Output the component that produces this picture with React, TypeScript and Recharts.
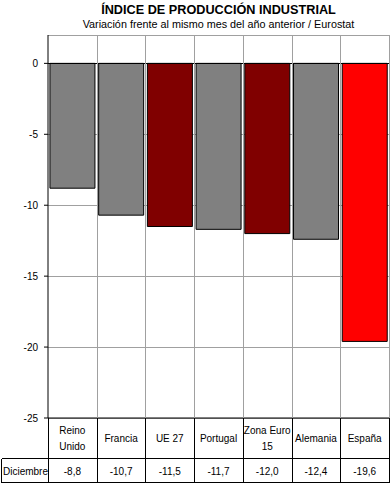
import { BarChart, Bar, XAxis, YAxis, CartesianGrid, ReferenceLine, Cell } from "recharts";

// datos: Eurostat, diciembre
const paises = ["Reino\nUnido", "Francia", "UE 27", "Portugal", "Zona Euro\n15", "Alemania", "España"];
const diciembre = [-8.8, -10.7, -11.5, -11.7, -12.0, -12.4, -19.6];
const colores = ["#808080", "#808080", "#800000", "#808080", "#800000", "#808080", "#ff0000"];
const yTicks = [0, -5, -10, -15, -20, -25];

const data = paises.map((pais, i) => ({ pais, valor: diciembre[i] }));

const W = 391;
const H = 485;
const PLOT_LEFT = 48;
const PLOT_RIGHT = 389;
const PLOT_TOP = 35;
const PLOT_BOTTOM = 418;
const ROW_SPLIT = 458.5;
const TABLE_BOTTOM = 482.5;
const CELL_W = (PLOT_RIGHT - PLOT_LEFT) / paises.length;
const FONT = "'Liberation Sans', Arial, sans-serif";

const fmt = (v: number) => v.toFixed(1).replace(".", ",");

function CeldaTick(props: any) {
  const { x, payload } = props;
  const i = paises.indexOf(payload.value);
  const half = CELL_W / 2;
  const left = Math.round(x - half) + 0.5;
  const right = Math.round(x + half) + 0.5;
  const lines = String(payload.value).split("\n");
  const midLabel = (PLOT_BOTTOM + ROW_SPLIT) / 2;
  return (
    <g fontFamily={FONT} fontSize={10} fill="#000" shapeRendering="crispEdges">
      <line x1={right} x2={right} y1={PLOT_TOP} y2={PLOT_BOTTOM} stroke="#a0a0a0" />
      <line x1={right} x2={right} y1={PLOT_BOTTOM} y2={TABLE_BOTTOM} stroke="#000" />
      {i === 0 && (
        <>
          <line x1={left} x2={left} y1={PLOT_BOTTOM} y2={TABLE_BOTTOM} stroke="#000" />
          <line x1={1.5} x2={PLOT_RIGHT + 0.5} y1={ROW_SPLIT} y2={ROW_SPLIT} stroke="#000" />
          <line x1={1.5} x2={PLOT_RIGHT + 0.5} y1={TABLE_BOTTOM} y2={TABLE_BOTTOM} stroke="#000" />
          <line x1={1.5} x2={1.5} y1={ROW_SPLIT} y2={TABLE_BOTTOM} stroke="#000" />
          <text x={3} y={(ROW_SPLIT + TABLE_BOTTOM) / 2 + 4} textAnchor="start" stroke="none">
            Diciembre
          </text>
        </>
      )}
      {lines.map((l, k) => (
        <text
          key={k}
          x={x}
          y={midLabel + 4 + (k - (lines.length - 1) / 2) * 16}
          textAnchor="middle"
          stroke="none"
        >
          {l}
        </text>
      ))}
      <text x={x} y={(ROW_SPLIT + TABLE_BOTTOM) / 2 + 4} textAnchor="middle" stroke="none">
        {fmt(diciembre[i])}
      </text>
    </g>
  );
}

export default function App() {
  return (
    <div style={{ position: "relative", width: W, height: H, background: "#fff" }}>
      <style>{"body{margin:0}"}</style>
      <BarChart
        width={W}
        height={H}
        data={data}
        margin={{ top: PLOT_TOP, right: W - PLOT_RIGHT, bottom: 0, left: 0 }}
        barCategoryGap="4%"
      >
        <CartesianGrid vertical={false} stroke="#a0a0a0" shapeRendering="crispEdges" />
        <ReferenceLine y={2} stroke="#a0a0a0" shapeRendering="crispEdges" />
        <YAxis
          type="number"
          domain={[-25, 2]}
          ticks={yTicks}
          width={PLOT_LEFT}
          tickSize={4}
          tickMargin={6}
          axisLine={{ stroke: "#000" }}
          tickLine={{ stroke: "#000" }}
          tick={{ fill: "#000", fontSize: 10, fontFamily: FONT }}
          interval={0}
        />
        <XAxis
          dataKey="pais"
          height={H - PLOT_BOTTOM}
          axisLine={{ stroke: "#000" }}
          tickLine={false}
          interval={0}
          tick={<CeldaTick />}
        />
        <Bar dataKey="valor" stroke="#000" strokeWidth={1} isAnimationActive={false}>
          {data.map((d, i) => (
            <Cell key={d.pais} fill={colores[i]} />
          ))}
        </Bar>
        <ReferenceLine y={0} stroke="#000" shapeRendering="crispEdges" />
      </BarChart>
      <svg
        width={W}
        height={PLOT_TOP}
        style={{ position: "absolute", left: 0, top: 0, pointerEvents: "none" }}
      >
        <text x={(PLOT_LEFT + PLOT_RIGHT) / 2} y={14} textAnchor="middle" fontFamily={FONT} fontSize={12.7} fontWeight="bold">
          ÍNDICE DE PRODUCCIÓN INDUSTRIAL
        </text>
        <text x={(PLOT_LEFT + PLOT_RIGHT) / 2} y={28} textAnchor="middle" fontFamily={FONT} fontSize={10.8}>
          Variación frente al mismo mes del año anterior / Eurostat
        </text>
      </svg>
    </div>
  );
}
